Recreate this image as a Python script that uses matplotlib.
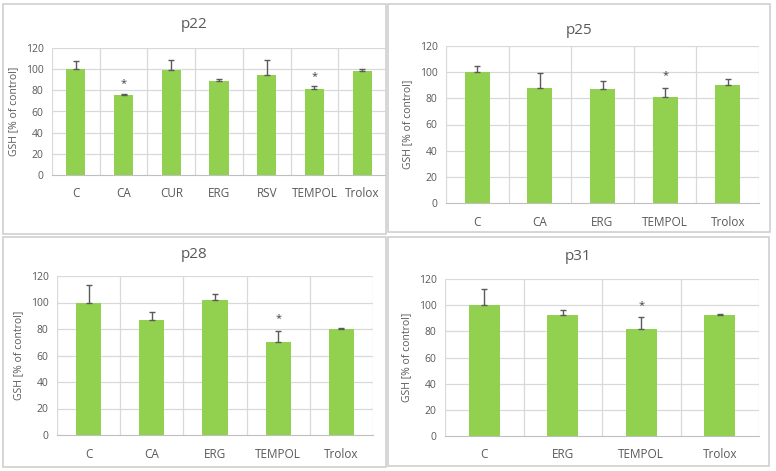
import matplotlib.pyplot as plt
from matplotlib.patches import Rectangle

plt.rcParams['font.family'] = ['Open Sans', 'DejaVu Sans']

# data
p22_groups = ['C', 'CA', 'CUR', 'ERG', 'RSV', 'TEMPOL', 'Trolox']
p22_mean = [100, 75.5, 99.5, 89, 94.5, 81, 98]
p22_err = [8, 1.5, 9, 1.5, 14, 3, 2.5]
p22_sig = [False, True, False, False, False, True, False]

p25_groups = ['C', 'CA', 'ERG', 'TEMPOL', 'Trolox']
p25_mean = [100, 88, 87, 81, 90]
p25_err = [5, 11.5, 6, 7, 5]
p25_sig = [False, False, False, True, False]

p28_groups = ['C', 'CA', 'ERG', 'TEMPOL', 'Trolox']
p28_mean = [100, 87, 102, 70.5, 80]
p28_err = [13, 5.5, 4.5, 8, 1]
p28_sig = [False, False, False, True, False]

p31_groups = ['C', 'ERG', 'TEMPOL', 'Trolox']
p31_mean = [100, 92.5, 81.5, 92.5]
p31_err = [12, 4, 9.5, 1]
p31_sig = [False, False, True, False]

W, H = 776, 471
GREEN = '#92D050'
GRID = '#d9d9d9'
TXT = '#595959'

fig = plt.figure(figsize=(W / 100, H / 100), dpi=100)


def px_rect(x0, y0, x1, y1):
    # pixel box (top-left origin) -> figure fraction [l, b, w, h]
    return [x0 / W, 1 - y1 / H, (x1 - x0) / W, (y1 - y0) / H]


def panel_box(x0, y0, x1, y1):
    l, b, w, h = px_rect(x0, y0, x1, y1)
    fig.patches.append(Rectangle((l, b), w, h, transform=fig.transFigure,
                                 fill=False, edgecolor='#d0d0d0', lw=1.2))


def draw(box, plot, title, title_y, groups, mean, err, sig):
    panel_box(*box)
    ax = fig.add_axes(px_rect(*plot))
    x = range(len(groups))
    ax.bar(x, mean, width=0.4, color=GREEN, zorder=3)
    ax.errorbar(x, mean, yerr=[[0] * len(err), err], fmt='none',
                ecolor='#5a5a5a', elinewidth=1, capsize=2.5, capthick=1, zorder=4)
    for i, s in enumerate(sig):
        if s:
            ax.text(i, mean[i] + err[i] + 9, '*', ha='center', va='center',
                    fontsize=8, color='#404040')
    ax.set_xlim(-0.5, len(groups) - 0.5)
    ax.set_ylim(0, 120)
    ax.set_yticks(range(0, 121, 20))
    ax.set_xticks(list(x))
    ax.set_xticklabels(groups)
    for v in range(20, 121, 20):
        ax.axhline(v, color=GRID, lw=0.9, zorder=1)
    for k in range(len(groups) + 1):
        ax.axvline(k - 0.5, color=GRID, lw=0.9, zorder=1)
    for side in ['top', 'right', 'left']:
        ax.spines[side].set_visible(False)
    ax.spines['bottom'].set_color('#bfbfbf')
    ax.tick_params(axis='x', length=0, pad=9, labelsize=8.5, labelcolor=TXT)
    ax.tick_params(axis='y', length=0, pad=6, labelsize=7.5, labelcolor=TXT)
    ax.set_ylabel('GSH [% of control]', fontsize=7.5, color=TXT, labelpad=5)
    cx = (box[0] + box[2]) / 2 / W
    fig.text(cx, 1 - title_y / H, title, ha='center', va='center',
             fontsize=11, color=TXT)


draw((3, 4, 386, 234), (52, 48, 386, 175), 'p22', 25,
     p22_groups, p22_mean, p22_err, p22_sig)
draw((388, 4, 770, 232), (446, 46, 759, 203), 'p25', 30,
     p25_groups, p25_mean, p25_err, p25_sig)
draw((3, 237, 386, 467), (57, 276, 373, 435), 'p28', 255,
     p28_groups, p28_mean, p28_err, p28_sig)
draw((388, 237, 769, 466), (445, 279, 759, 436), 'p31', 257,
     p31_groups, p31_mean, p31_err, p31_sig)

fig.savefig('out.png', dpi=100)
